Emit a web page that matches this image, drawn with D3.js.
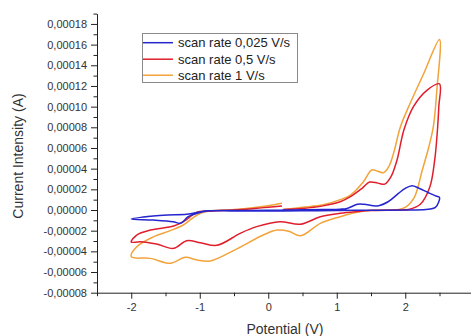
<!DOCTYPE html>
<html>
<head>
<meta charset="utf-8">
<script src="https://cdn.jsdelivr.net/npm/d3@7"></script>
<style>
  html, body { margin: 0; padding: 0; background: #fff; }
  svg { display: block; font-family: "Liberation Sans", Arial, sans-serif; }
</style>
</head>
<body>
<svg id="chart" width="471" height="336"></svg>
<script>
// ---- data (potential in V, current in A) ----
const seriesNames = ["scan rate 0,025 V/s", "scan rate 0,5 V/s", "scan rate 1 V/s"];
const seriesColors = ["#2626cf", "#e01f2d", "#f2a33a"];

const blueV = [0.2, 0.5, 0.8, 1.05, 1.15, 1.3, 1.4, 1.59, 1.75, 1.9, 2.0, 2.1, 2.2, 2.34, 2.45, 2.5, 2.49, 2.44, 2.3, 2.0, 1.5, 1.0, 0.5, 0.0, -0.5, -0.89, -1.05, -1.17, -1.28, -1.39, -1.68, -2.0, -1.68, -1.47, -1.19, -1.0, -0.89, -0.5, 0.0, 0.2];
const blueI = [0.0e-5, 0.02e-5, 0.05e-5, 0.08e-5, 0.15e-5, 0.55e-5, 0.55e-5, 0.39e-5, 0.8e-5, 1.6e-5, 2.1e-5, 2.35e-5, 2.1e-5, 1.67e-5, 1.35e-5, 1.23e-5, 0.8e-5, 0.25e-5, 0.05e-5, 0.0e-5, -0.02e-5, -0.05e-5, -0.08e-5, -0.1e-5, -0.1e-5, -0.1e-5, -0.35e-5, -0.65e-5, -1.29e-5, -1.13e-5, -0.97e-5, -0.87e-5, -0.58e-5, -0.48e-5, -0.42e-5, -0.2e-5, -0.08e-5, -0.05e-5, -0.03e-5, -0.02e-5];

const redV = [0.22, 0.5, 0.8, 1.05, 1.2, 1.37, 1.48, 1.6, 1.7, 1.79, 1.88, 1.98, 2.12, 2.32, 2.5, 2.49, 2.47, 2.43, 2.36, 2.22, 2.05, 1.9, 1.5, 1.3, 1.05, 0.76, 0.47, 0.17, -0.17, -0.41, -0.75, -0.99, -1.19, -1.38, -1.63, -1.87, -2.0, -1.92, -1.72, -1.38, -1.24, -1.04, -0.89, -0.5, -0.2, 0.0, 0.2];
const redI = [0.05e-5, 0.15e-5, 0.4e-5, 0.8e-5, 1.29e-5, 2.1e-5, 2.7e-5, 2.6e-5, 2.5e-5, 3.2e-5, 4.84e-5, 7.74e-5, 10.0e-5, 11.6e-5, 12.2e-5, 10.0e-5, 7.74e-5, 4.84e-5, 2.25e-5, 0.55e-5, 0.05e-5, 0.0e-5, -0.05e-5, -0.15e-5, -0.32e-5, -0.65e-5, -1.38e-5, -1.13e-5, -1.61e-5, -2.26e-5, -3.42e-5, -3.16e-5, -2.97e-5, -3.71e-5, -3.29e-5, -3.07e-5, -3.1e-5, -2.42e-5, -1.94e-5, -1.55e-5, -1.13e-5, -0.22e-5, -0.1e-5, 0.0e-5, 0.15e-5, 0.27e-5, 0.39e-5];

const orangeV = [0.22, 0.5, 0.8, 1.05, 1.2, 1.39, 1.51, 1.6, 1.68, 1.76, 1.83, 1.93, 2.07, 2.27, 2.5, 2.46, 2.41, 2.34, 2.25, 2.13, 2.0, 1.9, 1.6, 1.35, 1.05, 0.76, 0.47, 0.3, 0.13, -0.05, -0.5, -0.85, -1.04, -1.21, -1.43, -1.72, -2.0, -1.92, -1.67, -1.43, -1.24, -1.11, -0.99, -0.85, -0.5, -0.2, 0.0, 0.2];
const orangeI = [0.05e-5, 0.26e-5, 0.5e-5, 1.0e-5, 1.45e-5, 2.74e-5, 3.87e-5, 3.75e-5, 3.6e-5, 4.2e-5, 5.5e-5, 8.06e-5, 10.3e-5, 13.2e-5, 16.5e-5, 11.5e-5, 8.06e-5, 6.0e-5, 3.9e-5, 1.2e-5, 0.25e-5, 0.05e-5, 0.0e-5, -0.15e-5, -0.65e-5, -1.29e-5, -2.5e-5, -2.05e-5, -1.94e-5, -2.35e-5, -3.9e-5, -4.94e-5, -4.84e-5, -4.58e-5, -5.16e-5, -4.68e-5, -4.52e-5, -3.55e-5, -2.58e-5, -2.0e-5, -1.45e-5, -0.81e-5, -0.32e-5, -0.1e-5, 0.05e-5, 0.25e-5, 0.42e-5, 0.65e-5];

const xTicks = [-2, -1, 0, 1, 2, 3];
const xTickLabels = ["-2", "-1", "0", "1", "2", "3"];
const xMinorTicks = [-2.5, -1.5, -0.5, 0.5, 1.5, 2.5];
const yTicks = [-0.00008, -0.00006, -0.00004, -0.00002, 0, 0.00002, 0.00004, 0.00006, 0.00008, 0.00010, 0.00012, 0.00014, 0.00016, 0.00018];
const yTickLabels = ["-0,00008", "-0,00006", "-0,00004", "-0,00002", "0,00000", "0,00002", "0,00004", "0,00006", "0,00008", "0,00010", "0,00012", "0,00014", "0,00016", "0,00018"];
const yMinorTicks = [-0.00007, -0.00005, -0.00003, -0.00001, 0.00001, 0.00003, 0.00005, 0.00007, 0.00009, 0.00011, 0.00013, 0.00015, 0.00017, 0.00019];

// ---- drawing ----
const svg = d3.select("#chart");
const x = d3.scaleLinear().domain([-2.5, 3]).range([97, 473.75]);
const y = d3.scaleLinear().domain([-0.00008, 0.00019]).range([292.7, 13.6]);

const series = [
  { name: seriesNames[0], color: seriesColors[0], v: blueV, i: blueI },
  { name: seriesNames[1], color: seriesColors[1], v: redV, i: redI },
  { name: seriesNames[2], color: seriesColors[2], v: orangeV, i: orangeI }
];

const line = d3.line()
  .x(d => x(d[0]))
  .y(d => y(d[1]))
  .curve(d3.curveCatmullRom.alpha(0.5));

// draw orange, red, blue order? reference shows blue on top of others near 0
const drawOrder = [2, 1, 0];
drawOrder.forEach(k => {
  const s = series[k];
  svg.append("path")
    .datum(d3.zip(s.v, s.i))
    .attr("fill", "none")
    .attr("stroke", s.color)
    .attr("stroke-width", 1.5)
    .attr("stroke-linejoin", "round")
    .attr("d", line);
});

// axes
const axisColor = "#222";
const textColor = "#333";

const xAxis = svg.append("g").attr("transform", "translate(0,292.7)")
  .call(d3.axisBottom(x).tickValues(xTicks).tickFormat((d, idx) => xTickLabels[idx]).tickSize(6).tickPadding(5).tickSizeOuter(0));
svg.append("g").attr("transform", "translate(0,292.7)")
  .call(d3.axisBottom(x).tickValues(xMinorTicks).tickFormat("").tickSize(3.5).tickSizeOuter(0))
  .select(".domain").remove();

const yAxis = svg.append("g").attr("transform", "translate(97,0)")
  .call(d3.axisLeft(y).tickValues(yTicks).tickFormat((d, idx) => yTickLabels[idx]).tickSize(6).tickPadding(4).tickSizeOuter(0));
svg.append("g").attr("transform", "translate(97,0)")
  .call(d3.axisLeft(y).tickValues(yMinorTicks).tickFormat("").tickSize(3.5).tickSizeOuter(0))
  .select(".domain").remove();

svg.selectAll(".domain, .tick line").attr("stroke", axisColor);
svg.selectAll(".tick text")
  .attr("fill", textColor)
  .style("font-size", "11px")
  .style("font-family", "'Liberation Sans', Arial, sans-serif");

// axis titles
svg.append("text")
  .attr("x", 285).attr("y", 334)
  .attr("text-anchor", "middle")
  .attr("fill", textColor)
  .style("font-size", "14px")
  .text("Potential (V)");

svg.append("text")
  .attr("transform", "translate(23,156) rotate(-90)")
  .attr("text-anchor", "middle")
  .attr("fill", textColor)
  .style("font-size", "14px")
  .text("Current Intensity (A)");

// legend
const legend = svg.append("g");
legend.append("rect")
  .attr("x", 142.5).attr("y", 33.5)
  .attr("width", 155).attr("height", 49)
  .attr("fill", "#fff")
  .attr("stroke", "#8a8a8a")
  .attr("stroke-width", 1);
const rowY = [42.7, 59.2, 75.2];
series.forEach((s, k) => {
  legend.append("line")
    .attr("x1", 143).attr("x2", 173)
    .attr("y1", rowY[k]).attr("y2", rowY[k])
    .attr("stroke", s.color).attr("stroke-width", 1.5);
  legend.append("text")
    .attr("x", 178).attr("y", rowY[k] + 4.6)
    .attr("fill", "#222")
    .style("font-size", "13px")
    .text(s.name);
});
</script>
</body>
</html>
